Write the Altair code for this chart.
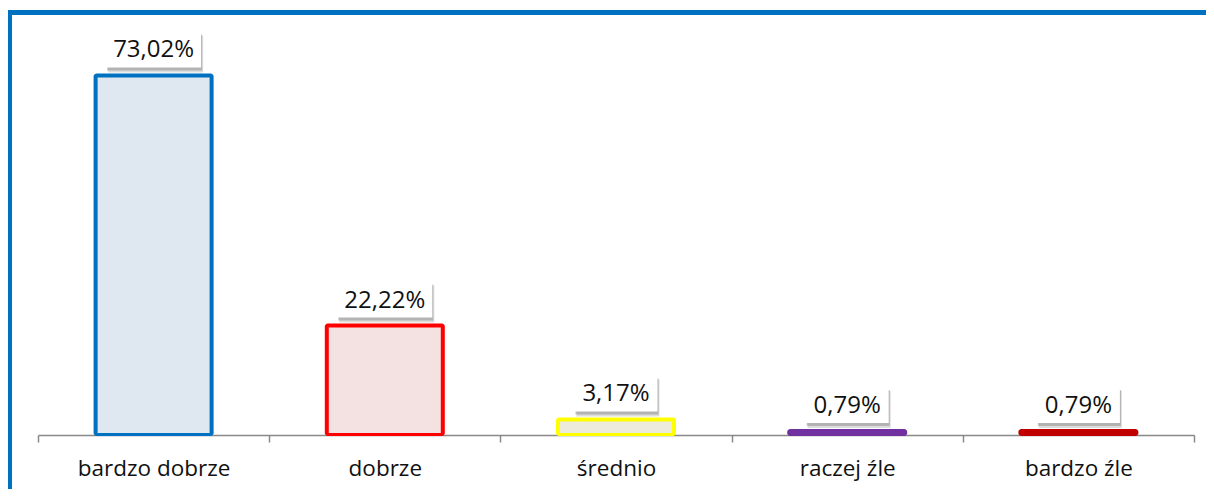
import altair as alt
import pandas as pd

categories = ["bardzo dobrze", "dobrze", "średnio", "raczej źle", "bardzo źle"]
values = [73.02, 22.22, 3.17, 0.79, 0.79]
labels = ["73,02%", "22,22%", "3,17%", "0,79%", "0,79%"]
stroke_colors = ["#0070C0", "#FF0000", "#FFFF00", "#7030A0", "#C00000"]
fill_colors = ["#DFE7F0", "#F4E1E1", "#ECEBDC", "#7030A0", "#C00000"]

df = pd.DataFrame({
    "cat": categories,
    "value": values,
    "label": labels,
    "stroke": stroke_colors,
    "fill": fill_colors,
})

FONT = "Open Sans"

x = alt.X(
    "cat:N",
    sort=categories,
    scale=alt.Scale(paddingInner=0, paddingOuter=0),
    axis=alt.Axis(
        title=None,
        labelAngle=0,
        tickBand="extent",
        domainColor="#898989",
        domainWidth=1.5,
        tickColor="#898989",
        tickWidth=1.5,
        tickSize=7,
        labelColor="#111111",
        labelFont=FONT,
        labelFontSize=22.5,
        labelPadding=15,
    ),
)
y = alt.Y("value:Q", scale=alt.Scale(domain=[0, 80]), axis=None)

base = alt.Chart(df).encode(x=x)

# outline bar (stroke colour) and inner fill bar
bars_outer = base.mark_bar(
    width=120, cornerRadius=3, yOffset=-2, y2Offset=1
).encode(
    y=y,
    y2=alt.datum(0),
    fill=alt.Fill("stroke:N", scale=None),
)

bars_inner = base.mark_bar(
    width=112, yOffset=2, y2Offset=-2
).encode(
    y=y,
    y2=alt.datum(0),
    fill=alt.Fill("fill:N", scale=None),
)

box_base = base.transform_calculate(
    boxw="length(datum.label) > 5 ? 95 : 83"
)

shadow_outer = box_base.mark_bar(
    yOffset=-3, y2Offset=-40, xOffset=2, color="#9a9a9a", opacity=0.35
).encode(
    y=y,
    y2="value:Q",
    size=alt.Size("boxw:Q", scale=None, legend=None),
)

shadow_inner = box_base.mark_bar(
    yOffset=-5, y2Offset=-41, xOffset=1, color="#8a8a8a", opacity=0.5
).encode(
    y=y,
    y2="value:Q",
    size=alt.Size("boxw:Q", scale=None, legend=None),
)

boxes = box_base.mark_bar(
    yOffset=-8, y2Offset=-43, color="white"
).encode(
    y=y,
    y2="value:Q",
    size=alt.Size("boxw:Q", scale=None, legend=None),
)

text = base.mark_text(
    dy=-25, baseline="middle", align="center", font=FONT, fontSize=24, color="#111111"
).encode(y=y, text="label:N")

border_df = pd.DataFrame({"k": [0]})
border_top = alt.Chart(border_df).mark_rule(color="#0070C0", strokeWidth=5, clip=False).encode(
    x=alt.value(-31), x2=alt.value(1175), y=alt.value(-28.5)
)
border_left = alt.Chart(border_df).mark_rule(color="#0070C0", strokeWidth=5, clip=False).encode(
    x=alt.value(-28.5), y=alt.value(-31), y2=alt.value(460)
)

chart = alt.layer(
    border_top, border_left, bars_outer, bars_inner, shadow_outer, shadow_inner, boxes, text
).properties(
    width=1156,
    height=394,
    padding={"left": 30, "top": 33, "right": 12, "bottom": 54},
    autosize=alt.AutoSizeParams(type="none"),
).configure_view(strokeWidth=0)

chart.save("out.html", embed_options={"renderer": "svg", "actions": False})
